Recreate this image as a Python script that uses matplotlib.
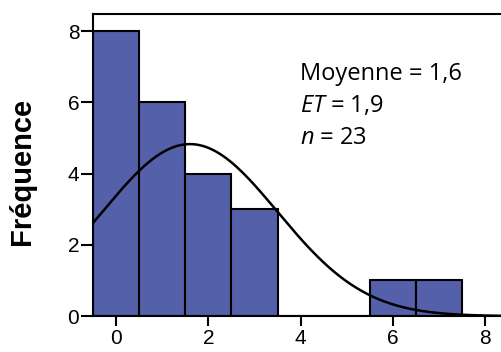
import matplotlib.pyplot as plt
import numpy as np

valeurs = [0, 1, 2, 3, 4, 5, 6, 7]
frequences = [8, 6, 4, 3, 0, 0, 1, 1]

moyenne = 1.6
ecart_type = 1.9
n = 23
xticks = [0, 2, 4, 6, 8]
yticks = [0, 2, 4, 6, 8]

plt.rcParams['mathtext.fontset'] = 'custom'
plt.rcParams['mathtext.it'] = 'Open Sans:italic'
plt.rcParams['mathtext.rm'] = 'Open Sans'

fig = plt.figure(figsize=(5.01, 3.52), dpi=100)
ax = fig.add_axes([0.186, 0.102, 0.814, 0.858])

ax.bar(valeurs, frequences, width=1.0, color='#5560aa', edgecolor='black',
       linewidth=1.5, zorder=2)

# courbe normale ajustee
xs = np.linspace(-0.5, 8.4, 300)
ys = n / (ecart_type * np.sqrt(2 * np.pi)) * np.exp(-0.5 * ((xs - moyenne) / ecart_type) ** 2)
ax.plot(xs, ys, color='black', linewidth=1.8, zorder=3)

ax.set_xlim(-0.5, 8.35)
ax.set_ylim(0, 8.48)
ax.set_xticks(xticks)
ax.set_yticks(yticks)

for s in ['left', 'bottom', 'top']:
    ax.spines[s].set_linewidth(1.5)
ax.spines['right'].set_visible(False)
ax.tick_params(axis='y', length=9, width=1.5, pad=1, labelsize=15)
ax.tick_params(axis='x', length=7, width=1.5, pad=2, labelsize=15)
for lab in ax.get_xticklabels() + ax.get_yticklabels():
    lab.set_family('Liberation Sans')

ax.set_ylabel('Fréquence', fontsize=21, fontweight='bold',
              family='Liberation Sans')
ax.yaxis.set_label_coords(-0.14, 0.48)

ax.text(0.598, 0.79, 'Moyenne = 1,6', transform=fig.transFigure, fontsize=17,
        family='Open Sans', va='center')
ax.text(0.598, 0.70, r'$ET$ = 1,9', transform=fig.transFigure, fontsize=17,
        family='Open Sans', va='center')
ax.text(0.598, 0.607, r'$n$ = 23', transform=fig.transFigure, fontsize=17,
        family='Open Sans', va='center')

fig.savefig('out.png', dpi=100)
